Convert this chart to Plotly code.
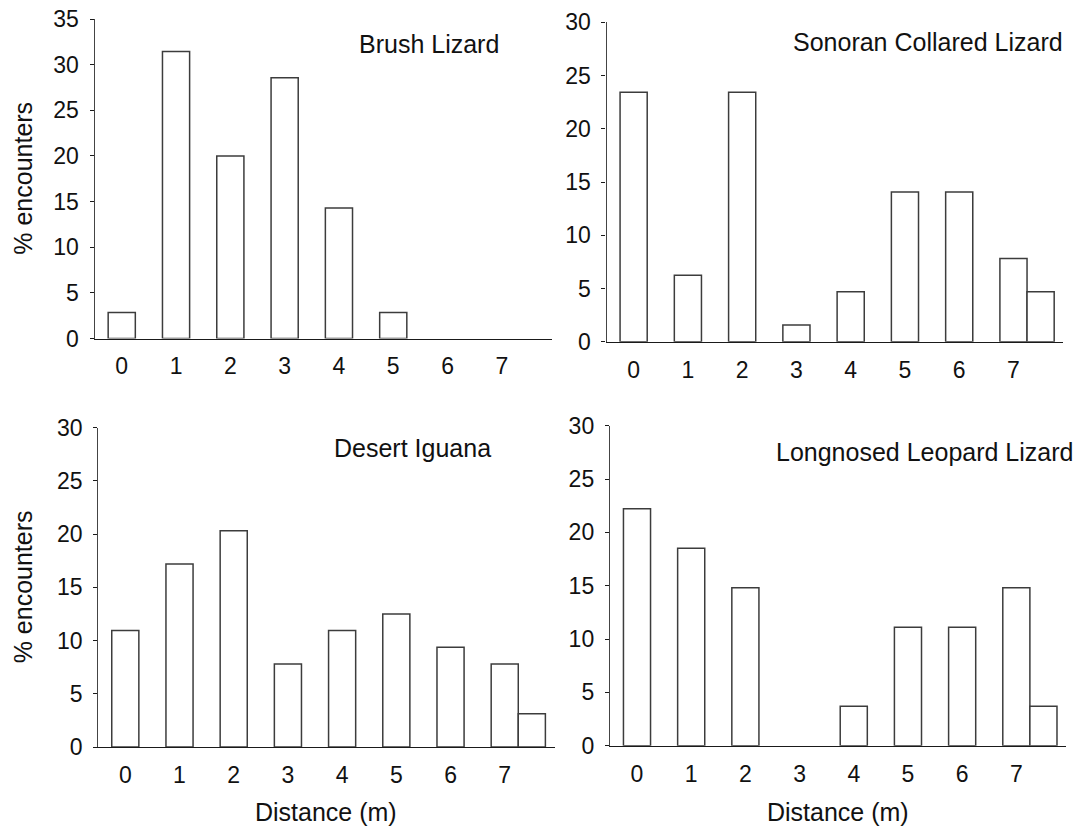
import plotly.graph_objects as go

# Distance bins (m); the last, unlabeled bin sits just right of 7
distance = [0, 1, 2, 3, 4, 5, 6, 7, 7.5]
tick_vals = [0, 1, 2, 3, 4, 5, 6, 7]
tick_text = ["0", "1", "2", "3", "4", "5", "6", "7"]

# % encounters per distance bin
brush_lizard = [2.86, 31.43, 20.0, 28.57, 14.29, 2.86, 0, 0, 0]
sonoran_collared = [23.44, 6.25, 23.44, 1.56, 4.69, 14.06, 14.06, 7.81, 4.69]
desert_iguana = [10.94, 17.19, 20.31, 7.81, 10.94, 12.5, 9.38, 7.81, 3.13]
longnosed_leopard = [22.22, 18.52, 14.81, 0, 3.70, 11.11, 11.11, 14.81, 3.70]

species = ["Brush Lizard", "Sonoran Collared Lizard", "Desert Iguana", "Longnosed Leopard Lizard"]
series = [brush_lizard, sonoran_collared, desert_iguana, longnosed_leopard]
y_max = [35, 30, 30, 30]

W, H = 1080, 827
FONT = "Liberation Sans, Arial, sans-serif"
INK = "#111111"
AXIS = "#1a1a1a"
BAR_EDGE = "#3c3c3c"

# panel boxes in pixels: (left, right, top, bottom)
boxes = [
    (94.6, 551.8, 19.0, 338.5),
    (606.5, 1063.4, 22.3, 341.7),
    (98.2, 554.6, 427.7, 747.0),
    (609.9, 1066.2, 425.7, 745.7),
]
# species label positions: (left x, cap-centre y) in pixels
label_pos = [(357, 44), (791, 42), (332, 448), (774, 452)]

fig = go.Figure()
layout = dict(
    width=W, height=H,
    margin=dict(l=0, r=0, t=0, b=0),
    paper_bgcolor="white", plot_bgcolor="white",
    showlegend=False,
    font=dict(family=FONT, color=INK, size=23),
)
annotations = []

for i, (name, vals, ymax, box) in enumerate(zip(species, series, y_max, boxes)):
    n = "" if i == 0 else str(i + 1)
    xa, ya = "x" + n, "y" + n
    fig.add_trace(go.Bar(
        x=distance, y=vals, width=0.5,
        marker=dict(color="white", line=dict(
            color=BAR_EDGE, width=[0 if v == 0 else 1.5 for v in vals])),
        xaxis=xa, yaxis=ya, hoverinfo="x+y",
    ))
    l, r, t, b = box
    layout["xaxis" + n] = dict(
        domain=[l / W, r / W], range=[-0.5, 7.92], anchor=ya, automargin=False,
        tickvals=tick_vals, ticktext=tick_text, ticks="",
        showline=True, linecolor=AXIS, linewidth=1.4,
        showgrid=False, zeroline=False,
        tickfont=dict(size=23, color=INK, family=FONT),
        ticklabelstandoff=7,
    )
    layout["yaxis" + n] = dict(
        domain=[1 - b / H, 1 - t / H], range=[0, ymax], anchor=xa, automargin=False,
        dtick=5, tick0=0, ticks="outside", ticklen=4, tickcolor=AXIS, tickwidth=1,
        showline=True, linecolor="#444444", linewidth=1.2,
        showgrid=False, zeroline=False,
        tickfont=dict(size=23, color=INK, family=FONT),
        ticklabelstandoff=6,
    )
    lx, ly = label_pos[i]
    annotations.append(dict(
        text=name, xref="paper", yref="paper", x=lx / W, y=1 - ly / H,
        xanchor="left", yanchor="middle", showarrow=False,
        font=dict(size=25, color=INK, family=FONT),
    ))

# y titles on the left column, x titles on the bottom row
for (l, r, t, b) in (boxes[0], boxes[2]):
    annotations.append(dict(
        text="% encounters", xref="paper", yref="paper",
        x=23 / W, y=1 - (t + b) / 2 / H, textangle=-90,
        xanchor="center", yanchor="middle", showarrow=False,
        font=dict(size=25, color=INK, family=FONT),
    ))
for (l, r, t, b) in (boxes[2], boxes[3]):
    annotations.append(dict(
        text="Distance (m)", xref="paper", yref="paper",
        x=(l + r) / 2 / W, y=1 - 812 / H,
        xanchor="center", yanchor="middle", showarrow=False,
        font=dict(size=25, color=INK, family=FONT),
    ))

layout["annotations"] = annotations
fig.update_layout(**layout)
fig.write_html("out.html")
